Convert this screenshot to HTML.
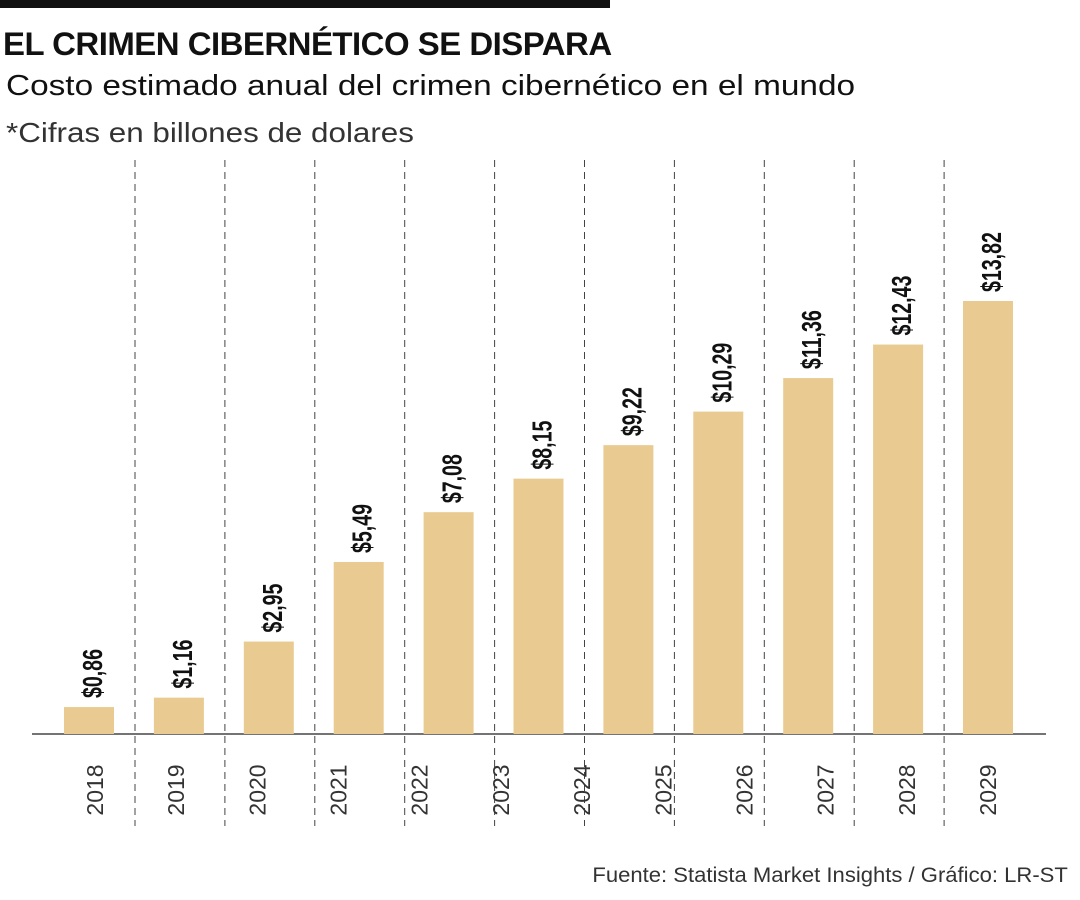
<!DOCTYPE html>
<html><head><meta charset="utf-8"><style>
body{margin:0;width:1080px;height:900px;background:#fff;font-family:"Liberation Sans",sans-serif;overflow:hidden;position:relative}
#topbar{position:absolute;left:0;top:0;width:610px;height:8px;background:#111}
#title{position:absolute;left:3px;top:26px;font-size:32px;font-weight:bold;color:#111;letter-spacing:-0.5px;white-space:nowrap;transform:scaleX(1.03);transform-origin:left}
#sub{position:absolute;left:6px;top:70px;font-size:29px;color:#111;transform:scaleX(1.15);transform-origin:left;white-space:nowrap}
#note{position:absolute;left:6px;top:117px;font-size:28px;color:#333;transform:scaleX(1.12);transform-origin:left;white-space:nowrap}
#src{position:absolute;right:12px;top:864px;font-size:21px;color:#333;transform:scaleX(1.05);transform-origin:right;white-space:nowrap}
svg{position:absolute;left:0;top:0}
</style></head><body>
<div id="topbar"></div>
<div id="title">EL CRIMEN CIBERNÉTICO SE DISPARA</div>
<div id="sub">Costo estimado anual del crimen cibernético en el mundo</div>
<div id="note">*Cifras en billones de dolares</div>
<div id="src">Fuente: Statista Market Insights / Gráfico: LR-ST</div>
<svg id="chart" width="1080" height="900"></svg>
<script>
const years=["2018","2019","2020","2021","2022","2023","2024","2025","2026","2027","2028","2029"];
const values=[0.86,1.16,2.95,5.49,7.08,8.15,9.22,10.29,11.36,12.43,13.82];
const labels=["$0,86","$1,16","$2,95","$5,49","$7,08","$8,15","$9,22","$10,29","$11,36","$12,43","$13,82"];
const NS="http://www.w3.org/2000/svg",svg=document.getElementById('chart');
const base=734,scale=433/13.82;
const x=i=>89+i*89.9;
const y=v=>base-v*scale;
const yx=i=>95+i*(988-95)/(years.length-1);
function mk(t,a){const e=document.createElementNS(NS,t);for(const k in a)e.setAttribute(k,a[k]);svg.appendChild(e);return e;}
for(let i=0;i<10;i++){const l=mk('line',{x1:x(i)+46,x2:x(i)+46,y1:160,y2:826,stroke:'#444','stroke-width':1,'stroke-dasharray':'7,5'});

}
const ax=mk('line',{x1:32,x2:1046,y1:base,y2:base,stroke:'#222','stroke-width':1.2});


values.forEach((v,i)=>{
const b=mk('rect',{x:x(i)-25,y:y(v),width:50,height:base-y(v),fill:'#e9cb91'});


const t=mk('text',{transform:`translate(${x(i)+13},${y(v)-9}) rotate(-90) scale(0.7,1)`,'font-size':28,'font-weight':'bold','font-family':'"Liberation Sans Narrow","Liberation Sans",sans-serif',fill:'#111'});
t.textContent=labels[i];


});
years.forEach((yr,i)=>{
const t=mk('text',{transform:`translate(${yx(i)+8},${790}) rotate(-90)`,'font-size':23,'text-anchor':'middle',fill:'#333'});
t.textContent=yr;


});
</script>
</body></html>
